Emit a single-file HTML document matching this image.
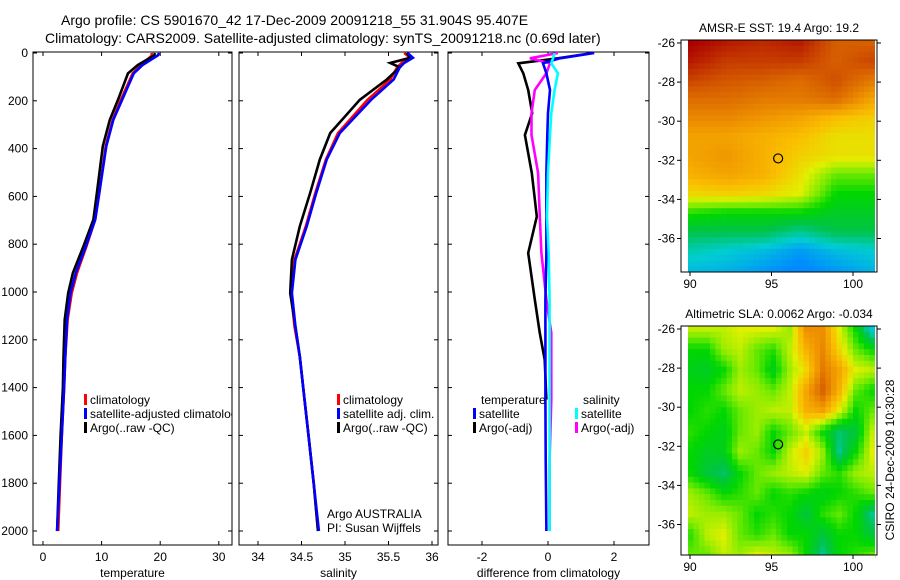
<!DOCTYPE html>
<html><head><meta charset="utf-8"><style>
html,body{margin:0;padding:0;background:#fff;}
svg{display:block;font-family:"Liberation Sans",sans-serif;}
text{fill:#000;}
</style></head><body>
<svg id="fig" width="900" height="580" viewBox="0 0 900 580" xmlns="http://www.w3.org/2000/svg">
<defs><clipPath id="clip1"><rect x="33" y="52" width="199" height="493"/></clipPath></defs>
<text x="61" y="25" font-size="14">Argo profile: CS 5901670_42 17-Dec-2009 20091218_55 31.904S 95.407E</text>
<text x="45" y="43" font-size="14">Climatology: CARS2009. Satellite-adjusted climatology: synTS_20091218.nc (0.69d later)</text>
<g id="p1"></g>
<g id="p2"></g>
<g id="p3"></g>
<g id="m1"></g>
<g id="m2"></g>
<text transform="translate(894,460) rotate(-90)" text-anchor="middle" font-size="12">CSIRO 24-Dec-2009 10:30:28</text>
</svg>
<script>
const depthT=[0,10,50,85,196,280,390,585,697,809,920,1004,1116,1270,1400,1600,1800,2000];
const tempArgo=[19.1,19.0,16.2,14.5,12.8,11.4,10.2,9.2,8.6,6.9,5.1,4.3,3.7,3.5,3.4,3.0,2.7,2.4];
const tempSat=[19.8,19.6,17.0,15.5,13.5,12.0,10.8,9.6,8.9,7.3,5.6,4.7,4.1,3.8,3.6,3.2,2.8,2.4];
const tempClim=[18.5,18.6,16.8,15.3,13.3,11.9,10.7,9.6,8.9,7.4,5.8,4.9,4.2,3.8,3.6,3.2,2.9,2.6];
const depthS=[0,20,42,60,111,196,335,446,585,725,865,1004,1144,1270,1400,1600,1800,2000];
const salArgo=[35.71,35.75,35.52,35.63,35.48,35.17,34.83,34.71,34.6,34.48,34.39,34.37,34.43,34.48,34.52,34.58,34.64,34.69];
const salSat=[35.72,35.78,35.68,35.63,35.56,35.3,34.94,34.79,34.67,34.56,34.43,34.39,34.43,34.48,34.52,34.58,34.64,34.70];
const salClim=[35.68,35.75,35.65,35.6,35.52,35.26,34.92,34.78,34.66,34.55,34.42,34.38,34.42,34.48,34.52,34.58,34.64,34.69];
const depthD=[0,22,43,85,155,252,343,502,684,837,1032,1172,1283,1450,1700,2000];
const dTArgo=[1.37,0.3,-0.9,-0.75,-0.6,-0.48,-0.7,-0.49,-0.34,-0.6,-0.4,-0.25,-0.1,-0.05];
const dTSat=[1.4,0.36,-0.15,-0.05,0.06,0,-0.02,-0.05,-0.05,-0.05,-0.08,-0.08,-0.08,-0.08,-0.07,-0.05];
const dSArgo=[0.3,-0.55,0.06,-0.05,-0.4,-0.5,-0.5,-0.3,-0.25,-0.2,-0.05,0.1,0.1,0.1,0.05,0.05];
const dSSat=[0.2,0.15,0.1,0.3,0.2,0.1,0.06,0.0,-0.03,0.02,0.05,0.05,0.05,0.05,0.05,0.05];
const depthTicks=[0,200,400,600,800,1000,1200,1400,1600,1800,2000];
const tempTicks=[0,10,20,30];
const salTicks=[34,34.5,35,35.5,36];
const diffTicks=[-2,0,2];
const sstGrid=[
[0.93,0.9,0.88,0.9,0.82,0.82],[0.9,0.86,0.86,0.86,0.82,0.85],[0.85,0.83,0.82,0.8,0.84,0.78],
[0.8,0.8,0.78,0.78,0.8,0.72],[0.76,0.76,0.74,0.72,0.68,0.66],[0.72,0.72,0.7,0.68,0.64,0.64],
[0.72,0.74,0.7,0.66,0.64,0.64],[0.7,0.72,0.7,0.64,0.55,0.55],[0.65,0.66,0.65,0.62,0.5,0.5],
[0.52,0.5,0.5,0.5,0.47,0.47],[0.44,0.44,0.44,0.4,0.44,0.44],[0.38,0.36,0.34,0.3,0.34,0.36],
[0.34,0.33,0.3,0.27,0.3,0.33]];
const slaGrid=[
[.6,.6,.6,.62,.62,.62,.58,.75,.75,.62,.5,.35],[.5,.5,.58,.6,.55,.52,.6,.7,.76,.65,.55,.5],
[.48,.47,.5,.58,.55,.48,.58,.65,.78,.72,.62,.6],[.5,.5,.55,.6,.58,.55,.6,.72,.82,.7,.55,.5],
[.5,.52,.5,.55,.58,.6,.6,.7,.72,.62,.5,.55],[.52,.5,.48,.55,.58,.5,.55,.6,.5,.42,.45,.6],
[.5,.47,.48,.58,.55,.5,.6,.66,.58,.4,.5,.62],[.5,.45,.42,.5,.55,.58,.6,.62,.55,.52,.58,.6],
[.58,.55,.5,.52,.55,.5,.52,.5,.48,.5,.52,.55],[.6,.58,.58,.55,.5,.52,.5,.45,.52,.55,.5,.4],
[.52,.6,.62,.55,.52,.55,.5,.5,.45,.5,.5,.45],[.55,.55,.6,.58,.62,.6,.58,.5,.4,.5,.52,.55]];
const lonTicks=[90,95,100];
const latTicks=[-26,-28,-30,-32,-34,-36];

const NS="http://www.w3.org/2000/svg";
function mk(parent,tag,attrs){const e=document.createElementNS(NS,tag);for(const k in attrs)e.setAttribute(k,attrs[k]);parent.appendChild(e);return e;}
const yD=d=>53+d*0.239;
const TOP=52,BOT=545;

function panel(g,x0,x1,xs,ticks,fmt,label,showY,name){
  const r=mk(g,'rect',{x:x0,y:TOP,width:x1-x0,height:BOT-TOP,fill:'none',stroke:'#000','stroke-width':1});
  
  
  ticks.forEach(t=>{const x=xs(t);
    mk(g,'line',{x1:x,x2:x,y1:BOT,y2:BOT-4,stroke:'#000'});
    mk(g,'line',{x1:x,x2:x,y1:TOP,y2:TOP+4,stroke:'#000'});
    const tx=mk(g,'text',{x:x,y:BOT+16,'text-anchor':'middle','font-size':12});tx.textContent=fmt(t);
    
    
  });
  depthTicks.forEach(d=>{const y=yD(d);
    mk(g,'line',{x1:x0,x2:x0+4,y1:y,y2:y,stroke:'#000'});
    mk(g,'line',{x1:x1,x2:x1-4,y1:y,y2:y,stroke:'#000'});
    if(showY){const tx=mk(g,'text',{x:x0-5,y:y+4,'text-anchor':'end','font-size':12});tx.textContent=d;
      
      }
  });
  const lb=mk(g,'text',{x:(x0+x1)/2,y:577,'text-anchor':'middle','font-size':12});lb.textContent=label;
  
  
}
function line(g,xs,vals,depths,col,name){
  const pts=vals.map((v,i)=>xs(v).toFixed(1)+','+yD(depths[i]).toFixed(1)).join(' ');
  const p=mk(g,'polyline',{points:pts,fill:'none',stroke:col,'stroke-width':2.6,'stroke-linejoin':'miter'});
  
  
}
function legend(g,x,y,col,txt,clip){
  mk(g,'rect',{x:x,y:y-10,width:3,height:11,fill:col});
  const t=mk(g,'text',{x:x+6,y:y,'font-size':12});t.textContent=txt;
  if(clip)t.setAttribute('clip-path','url(#clip1)');
  
  
}
const g1=document.getElementById('p1');
const xT=v=>43+v*5.86;
panel(g1,33,232,xT,tempTicks,String,'temperature',true,'temperature');
line(g1,xT,tempClim,depthT,'#ff0000','temp-climatology-line');
line(g1,xT,tempArgo,depthT,'#000000','temp-argo-line');
line(g1,xT,tempSat,depthT,'#0000ff','temp-satellite-line');
legend(g1,84,404,'#ff0000','climatology',true);
legend(g1,84,418,'#0000ff','satellite-adjusted climatology',true);
legend(g1,84,432,'#000000','Argo(..raw -QC)',true);
const g2=document.getElementById('p2');
const xS=v=>258+(v-34)*87;
panel(g2,239,438,xS,salTicks,String,'salinity',false,'salinity');
line(g2,xS,salClim,depthS,'#ff0000','sal-climatology-line');
line(g2,xS,salArgo,depthS,'#000000','sal-argo-line');
line(g2,xS,salSat,depthS,'#0000ff','sal-satellite-line');
legend(g2,337,404,'#ff0000','climatology');
legend(g2,337,418,'#0000ff','satellite adj. clim.');
legend(g2,337,432,'#000000','Argo(..raw -QC)');
const a1=mk(g2,'text',{x:327,y:518,'font-size':12});a1.textContent='Argo AUSTRALIA';


const a2=mk(g2,'text',{x:327,y:532,'font-size':12});a2.textContent='PI: Susan Wijffels';


const g3=document.getElementById('p3');
const xDf=v=>548+v*33;
panel(g3,448,649,xDf,diffTicks,String,'difference from climatology',false,'difference');
line(g3,xDf,dTArgo,depthD,'#000000','diff-temp-argo-line');
line(g3,xDf,dSArgo,depthD,'#ff00ff','diff-sal-argo-line');
line(g3,xDf,dTSat,depthD,'#0000ff','diff-temp-satellite-line');
line(g3,xDf,dSSat,depthD,'#00ffff','diff-sal-satellite-line');
const tt=mk(g3,'text',{x:481,y:404,'font-size':12});tt.textContent='temperature';


const st=mk(g3,'text',{x:583,y:404,'font-size':12});st.textContent='salinity';


legend(g3,473,418,'#0000ff','satellite');
legend(g3,473,432,'#000000','Argo(-adj)');
legend(g3,575,418,'#00ffff','satellite');
legend(g3,575,432,'#ff00ff','Argo(-adj)');

const cstops=[[0.28,[0,140,255]],[0.36,[0,205,210]],[0.44,[0,195,70]],[0.50,[0,215,0]],[0.56,[120,235,0]],
[0.62,[225,240,0]],[0.68,[250,190,0]],[0.74,[240,150,0]],[0.82,[215,95,0]],[0.93,[170,0,0]]];
function cmap(v){
  if(v<=cstops[0][0])return 'rgb('+cstops[0][1].join(',')+')';
  for(let i=1;i<cstops.length;i++){if(v<=cstops[i][0]){const a=cstops[i-1],b=cstops[i],t=(v-a[0])/(b[0]-a[0]);
    return 'rgb('+a[1].map((c,k)=>Math.round(c+(b[1][k]-c)*t)).join(',')+')';}}
  return 'rgb('+cstops[cstops.length-1][1].join(',')+')';}
function sample(grid,fr,fc){
  const R=grid.length-1,C=grid[0].length-1;
  const r=Math.max(0,Math.min(R,fr*R)),c=Math.max(0,Math.min(C,fc*C));
  const r0=Math.floor(r),c0=Math.floor(c),r1=Math.min(R,r0+1),c1=Math.min(C,c0+1);
  const a=r-r0,b=c-c0;
  return grid[r0][c0]*(1-a)*(1-b)+grid[r0][c1]*(1-a)*b+grid[r1][c0]*a*(1-b)+grid[r1][c1]*a*b;}
function map(g,top,bot,grid,title,name){
  const L=681,R=877,ix0=688,ix1=875;
  const lonX=v=>690+(v-90)*16.3;
  const latY=v=>top+3+(-26-v)*19.55;
  const cw=5.5,ch=5.8;
  const nc=Math.ceil((ix1-ix0)/cw),nr=Math.ceil((bot-top)/ch);
  for(let i=0;i<nr;i++)for(let j=0;j<nc;j++){
    const v=sample(grid,i/(nr-1),j/(nc-1));
    const c=mk(g,'rect',{x:(ix0+j*cw).toFixed(1),y:(top+i*ch).toFixed(1),width:cw+0.4,height:ch+0.4,fill:cmap(v)});
    
    
  }
  mk(g,'rect',{x:ix1,y:top,width:R-ix1,height:bot-top,fill:'#fff'});
  mk(g,'rect',{x:ix0,y:bot,width:ix1-ix0,height:8,fill:'#fff'});
  mk(g,'rect',{x:L,y:top,width:R-L,height:bot-top,fill:'none',stroke:'#000'});
  lonTicks.forEach(v=>{const x=lonX(v);
    mk(g,'line',{x1:x,x2:x,y1:bot,y2:bot+4,stroke:'#000'});
    const t=mk(g,'text',{x:x,y:bot+16,'text-anchor':'middle','font-size':12});t.textContent=v;
    
    });
  latTicks.forEach(v=>{const y=latY(v);
    mk(g,'line',{x1:L-4,x2:L,y1:y,y2:y,stroke:'#000'});
    mk(g,'line',{x1:R,x2:R+4,y1:y,y2:y,stroke:'#000'});
    const t=mk(g,'text',{x:L-6,y:y+4,'text-anchor':'end','font-size':12});t.textContent=v;
    
    });
  const c=mk(g,'circle',{cx:lonX(95.407),cy:latY(-31.904),r:4.5,fill:'none',stroke:'#000','stroke-width':1.2});
  
  
  const t=mk(g,'text',{x:779,y:top-8,'text-anchor':'middle','font-size':12});t.textContent=title;
  
  
}
map(document.getElementById('m1'),40,272,sstGrid,'AMSR-E SST: 19.4 Argo: 19.2','sst');
map(document.getElementById('m2'),326,555,slaGrid,'Altimetric SLA: 0.0062 Argo: -0.034','sla');
</script>
</body></html>
